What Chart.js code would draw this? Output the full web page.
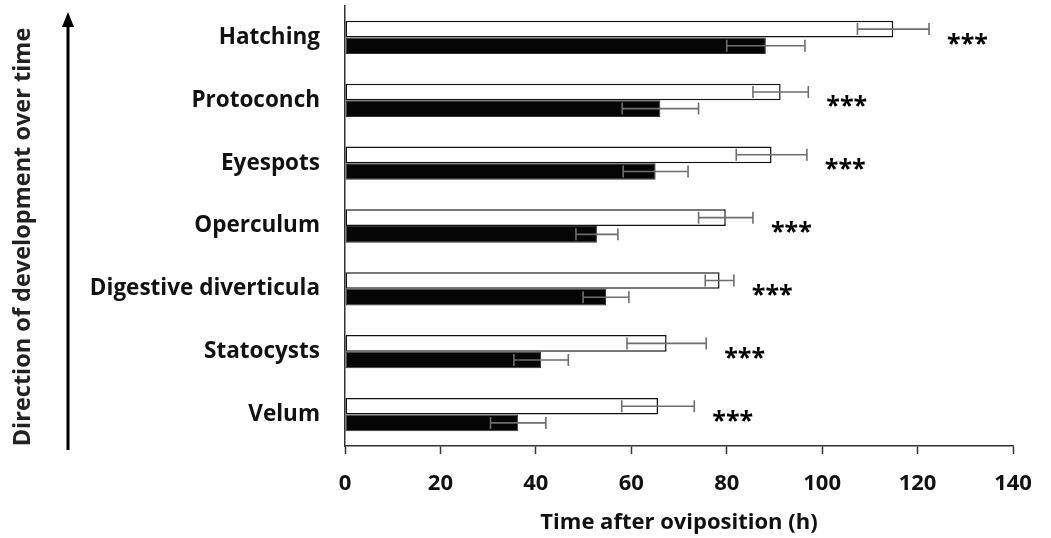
<!DOCTYPE html>
<html>
<head>
<meta charset="utf-8">
<script src="https://cdn.jsdelivr.net/npm/chart.js@4"></script>
<style>
  html, body { margin: 0; padding: 0; background: #fff; }
  #wrap { width: 1051px; height: 538px; position: relative; }
</style>
</head>
<body>
<div id="wrap"><canvas id="dev-chart"></canvas></div>
<script>
const stages = ["Hatching", "Protoconch", "Eyespots", "Operculum", "Digestive diverticula", "Statocysts", "Velum"];
const whiteMeans = [114.9, 91.3, 89.4, 79.8, 78.5, 67.4, 65.6];
const whiteErr = [7.5, 5.8, 7.4, 5.7, 3.0, 8.3, 7.6];
const blackMeans = [88.2, 66.1, 65.1, 52.8, 54.7, 41.1, 36.3];
const blackErr = [8.2, 8.0, 6.8, 4.4, 4.8, 5.7, 5.8];
const sigLabels = ["***", "***", "***", "***", "***", "***", "***"];
const xTicks = [0, 20, 40, 60, 80, 100, 120, 140];

const FONT = "'Open Sans', 'Noto Sans', sans-serif";

// error bars drawn over each bar, from the x scale
const errorBars = {
  id: "errorBars",
  afterDatasetsDraw(chart) {
    const ctx = chart.ctx;
    const xs = chart.scales.x;
    const errs = [whiteErr, blackErr];
    ctx.save();
    ctx.strokeStyle = "#6e6e6e";
    ctx.lineWidth = 1.6;
    chart.data.datasets.forEach((ds, di) => {
      const meta = chart.getDatasetMeta(di);
      meta.data.forEach((bar, i) => {
        const v = ds.data[i];
        const e = errs[di][i];
        const x1 = xs.getPixelForValue(v - e);
        const x2 = xs.getPixelForValue(v + e);
        const y = bar.y;
        ctx.beginPath();
        ctx.moveTo(x1, y); ctx.lineTo(x2, y);
        ctx.moveTo(x1, y - 6); ctx.lineTo(x1, y + 6);
        ctx.moveTo(x2, y - 6); ctx.lineTo(x2, y + 6);
        ctx.stroke();
      });
    });
    ctx.restore();
  }
};

// significance stars + left arrow and rotated label
const extras = {
  id: "extras",
  afterDraw(chart) {
    const ctx = chart.ctx;
    const xs = chart.scales.x;
    const ys = chart.scales.y;
    ctx.save();
    ctx.fillStyle = "#000";
    ctx.font = "bold 25px " + FONT;
    ctx.textAlign = "left";
    ctx.textBaseline = "middle";
    sigLabels.forEach((s, i) => {
      const x = xs.getPixelForValue(whiteMeans[i] + whiteErr[i]) + 18;
      const y = ys.getPixelForValue(i) + 7;
      ctx.fillText(s, x, y);
    });

    // arrow
    ctx.strokeStyle = "#000";
    ctx.lineWidth = 3;
    ctx.beginPath();
    ctx.moveTo(68, 450);
    ctx.lineTo(68, 24);
    ctx.stroke();
    ctx.beginPath();
    ctx.moveTo(68, 12);
    ctx.lineTo(62, 27);
    ctx.lineTo(74, 27);
    ctx.closePath();
    ctx.fill();

    // rotated label
    ctx.translate(23, 237);
    ctx.rotate(-Math.PI / 2);
    ctx.font = "bold 23.5px " + FONT;
    ctx.textAlign = "center";
    ctx.textBaseline = "middle";
    ctx.fillStyle = "#222";
    ctx.fillText("Direction of development over time", 0, 0);
    ctx.restore();
  }
};

const data_dev = {
  labels: stages,
  datasets: [
    {
      label: "white",
      data: whiteMeans,
      backgroundColor: "#ffffff",
      borderColor: "#111111",
      borderWidth: 1.5,
      borderSkipped: false,
    },
    {
      label: "black",
      data: blackMeans,
      backgroundColor: "#050505",
      borderColor: "#333333",
      borderWidth: 1,
      borderSkipped: false,
    },
  ],
};

const config_dev = {
  type: "bar",
  data: data_dev,
  options: {
    indexAxis: "y",
    responsive: true,
    maintainAspectRatio: false,
    animation: false,
    categoryPercentage: 0.53,
    barPercentage: 1.0,
    layout: { padding: { top: 6, right: 38, left: 0, bottom: 0 } },
    plugins: {
      legend: { display: false },
      tooltip: { enabled: false },
    },
    scales: {
      x: {
        min: 0,
        max: 140,
        afterBuildTicks(scale) {
          scale.ticks = xTicks.map((v) => ({ value: v }));
        },
        afterFit(scale) { scale.height = 92; },
        grid: {
          display: true,
          drawOnChartArea: false,
          drawTicks: true,
          tickLength: 8,
          tickWidth: 1.5,
          tickColor: "#333",
        },
        border: { display: true, color: "#333", width: 1.5 },
        ticks: {
          color: "#111",
          padding: 17,
          font: { family: FONT, size: 22, weight: "bold" },
        },
        title: {
          display: true,
          text: "Time after oviposition (h)",
          color: "#111",
          padding: { top: 0, bottom: 2 },
          font: { family: FONT, size: 22, weight: "bold" },
        },
      },
      y: {
        afterFit(scale) {
          scale.width = 345;
          scale.paddingTop = 0;
          scale.paddingBottom = 0;
        },
        grid: { display: false, drawTicks: false },
        border: { display: true, color: "#333", width: 1.5 },
        ticks: {
          color: "#111",
          padding: 25,
          font: { family: FONT, size: 22.5, weight: "bold" },
        },
      },
    },
  },
  plugins: [errorBars, extras],
};

var ctx_dev = document.getElementById("dev-chart").getContext("2d");
var devChart = new Chart(ctx_dev, config_dev);
</script>
</body>
</html>
